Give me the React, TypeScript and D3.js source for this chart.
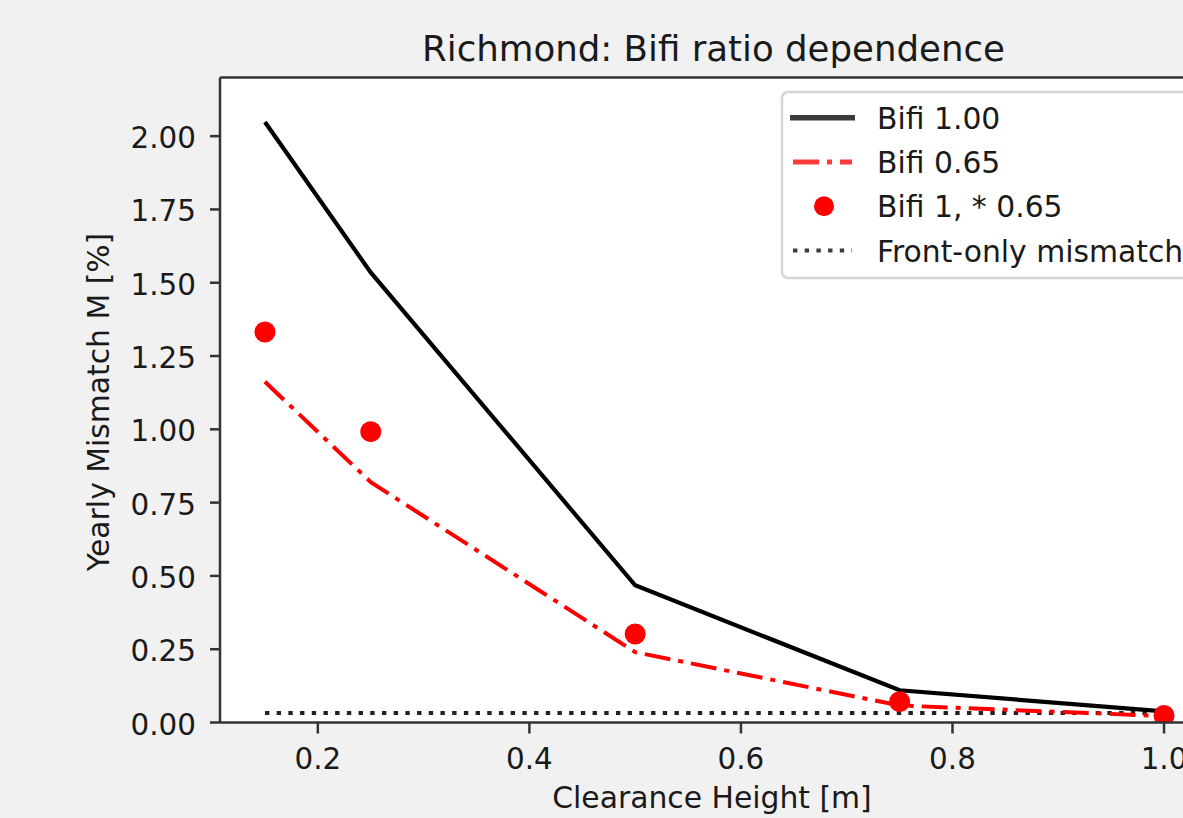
import React from "react";
import * as d3 from "d3";

const clearanceHeights = [0.15, 0.25, 0.5, 0.75, 1.0];
const bifi100 = [2.048, 1.535, 0.468, 0.11, 0.038];
const bifi065 = [1.162, 0.82, 0.24, 0.058, 0.022];
const bifi1Scaled = [1.332, 0.992, 0.302, 0.071, 0.024];
const frontOnly = [0.032, 0.032, 0.032, 0.032, 0.032];

const xTicks = [0.2, 0.4, 0.6, 0.8, 1.0];
const yTicks = [0, 0.25, 0.5, 0.75, 1.0, 1.25, 1.5, 1.75, 2.0];

const legendItems = [
  { label: "Bifi 1.00", kind: "solid" },
  { label: "Bifi 0.65", kind: "dashdot" },
  { label: "Bifi 1, * 0.65", kind: "dot" },
  { label: "Front-only mismatch", kind: "dotted" },
];

const W = 1183;
const H = 818;
const left = 220;
const right = 1209;
const top = 77.5;
const bottom = 722.5;
const FONT = "'DejaVu Sans', sans-serif";

export default function App() {
  const x = d3.scaleLinear().domain([0.1075, 1.0425]).range([left, right]);
  const y = d3.scaleLinear().domain([0, 2.2]).range([bottom, top]);
  const line = d3
    .line<number>()
    .x((_, i) => x(clearanceHeights[i]))
    .y((d) => y(d));

  const dashDot = "26 8 5 8";
  const dotted = "4.4 7.3";

  return (
    <svg
      width={W}
      height={H}
      style={{ position: "fixed", left: 0, top: 0, background: "#f1f1f1" }}
      fontFamily={FONT}
    >
      <defs>
        <clipPath id="plotclip">
          <rect x={left} y={top} width={right - left} height={bottom - top} />
        </clipPath>
      </defs>
      <rect x={0} y={0} width={W} height={H} fill="#f1f1f1" />
      <rect x={left} y={top} width={right - left} height={bottom - top} fill="#ffffff" />

      <g clipPath="url(#plotclip)">
        <path d={line(frontOnly) || ""} fill="none" stroke="#222" strokeWidth={4} strokeDasharray={dotted} />
        <path d={line(bifi100) || ""} fill="none" stroke="#000" strokeWidth={4.2} />
        <path d={line(bifi065) || ""} fill="none" stroke="#ff0000" strokeWidth={4} strokeDasharray={dashDot} />
        {bifi1Scaled.map((v, i) => (
          <circle key={i} cx={x(clearanceHeights[i])} cy={y(v)} r={10.5} fill="#ff0000" />
        ))}
      </g>

      {/* spines */}
      <g stroke="#333" strokeWidth={2.5} fill="none">
        <line x1={left} y1={top} x2={left} y2={bottom} />
        <line x1={left} y1={bottom} x2={right} y2={bottom} />
        <line x1={left} y1={top} x2={right} y2={top} />
        <line x1={right} y1={top} x2={right} y2={bottom} />
      </g>

      {/* y ticks */}
      {yTicks.map((t) => (
        <g key={"y" + t}>
          <line x1={left - 10} x2={left} y1={y(t)} y2={y(t)} stroke="#333" strokeWidth={2.5} />
          <text x={196} y={y(t) + 12} textAnchor="end" fontSize={29.4} fill="#1a1a1a">
            {t.toFixed(2)}
          </text>
        </g>
      ))}

      {/* x ticks */}
      {xTicks.map((t) => (
        <g key={"x" + t}>
          <line x1={x(t)} x2={x(t)} y1={bottom} y2={bottom + 11} stroke="#333" strokeWidth={2.5} />
          <text x={x(t)} y={769} textAnchor="middle" fontSize={29.4} fill="#1a1a1a">
            {t.toFixed(1)}
          </text>
        </g>
      ))}

      {/* axis labels */}
      <text x={712} y={808} textAnchor="middle" fontSize={29.8} fill="#1a1a1a">
        Clearance Height [m]
      </text>
      <text
        transform={`translate(109, ${(top + bottom) / 2 + 2}) rotate(-90)`}
        textAnchor="middle"
        fontSize={29.8}
        fill="#1a1a1a"
      >
        Yearly Mismatch M [%]
      </text>

      {/* title */}
      <text x={713.5} y={61} textAnchor="middle" fontSize={35.6} fill="#1a1a1a">
        Richmond: Bifi ratio dependence
      </text>

      {/* legend */}
      <g>
        <rect x={782} y={92} width={460} height={186} rx={6} fill="#ffffff" fillOpacity={0.8} stroke="#d4d4d4" strokeWidth={2.5} />
        {legendItems.map((it, i) => {
          const cy = 117.7 + i * 44.3;
          let handle: React.ReactNode = null;
          if (it.kind === "solid") {
            handle = <line x1={790} x2={855} y1={cy} y2={cy} stroke="#3c3c3c" strokeWidth={5.5} />;
          } else if (it.kind === "dashdot") {
            handle = <line x1={793} x2={852} y1={cy} y2={cy} stroke="#ff3c3c" strokeWidth={5} strokeDasharray={dashDot} />;
          } else if (it.kind === "dot") {
            handle = <circle cx={824} cy={cy} r={10} fill="#ff0000" />;
          } else {
            handle = <line x1={793} x2={852} y1={cy} y2={cy} stroke="#3c3c3c" strokeWidth={4} strokeDasharray={dotted} />;
          }
          return (
            <g key={it.label}>
              {handle}
              <text x={877} y={cy + 11} fontSize={29.8} fill="#1a1a1a">
                {it.label}
              </text>
            </g>
          );
        })}
      </g>
    </svg>
  );
}
